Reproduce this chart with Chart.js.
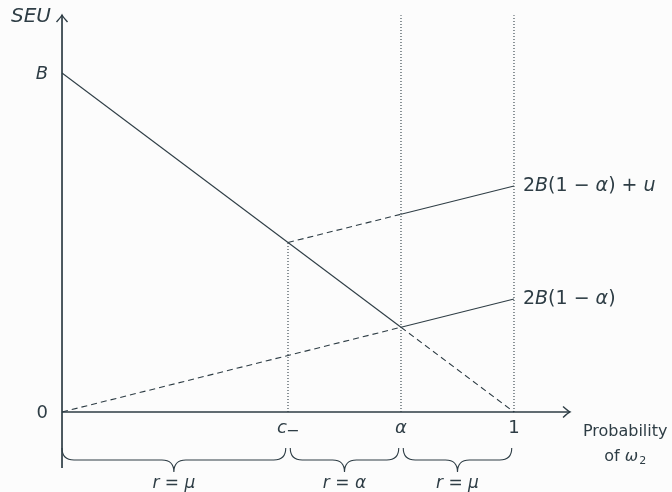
<!DOCTYPE html>
<html>
<head>
<meta charset="utf-8">
<script src="https://cdn.jsdelivr.net/npm/chart.js@4"></script>
<style>
  html, body { margin: 0; padding: 0; background: #fcfcfc; }
  #wrap { width: 672px; height: 492px; }
</style>
</head>
<body>
<div id="wrap"><canvas id="chart"></canvas></div>
<script>
// ---------- data (x = probability of ω2, y = SEU, B = 1) ----------
const xTickValues = [0.5, 0.75, 1];
const xTickLabels = ['c', 'α', '1'];
const yTickValues = [1, 0];
const yTickLabels = ['B', '0'];

const fallSolid   = [{x: 0, y: 1},      {x: 0.75, y: 0.25}];
const fallDashed  = [{x: 0.75, y: 0.25}, {x: 1, y: 0}];
const lowDashed   = [{x: 0, y: 0},      {x: 0.75, y: 0.25}];
const lowSolid    = [{x: 0.75, y: 0.25}, {x: 1, y: 0.3333}];
const highDashed  = [{x: 0.5, y: 0.5},  {x: 0.75, y: 0.5833}];
const highSolid   = [{x: 0.75, y: 0.5833}, {x: 1, y: 0.6667}];
const guideC      = [{x: 0.5, y: 0},    {x: 0.5, y: 0.5}];
const guideAlpha  = [{x: 0.75, y: 0},   {x: 0.75, y: 1.17}];
const guideOne    = [{x: 1, y: 0},      {x: 1, y: 1.17}];

// [text, italic]
const lineLabels = [
  [['2', 0], ['B', 1], ['(1 − ', 0], ['α', 1], [') + ', 0], ['u', 1]],
  [['2', 0], ['B', 1], ['(1 − ', 0], ['α', 1], [')', 0]],
];
const lineLabelY = [0.6667, 0.3333];

const braceSpans  = [[0, 0.495], [0.505, 0.745], [0.755, 0.995]];
const braceLabels = [
  [['r', 1], [' = ', 0], ['μ', 1]],
  [['r', 1], [' = ', 0], ['α', 1]],
  [['r', 1], [' = ', 0], ['μ', 1]],
];

const yAxisTitle = 'SEU';
const xAxisTitle = 'Probability';

// ---------- style ----------
const INK = '#2e3d45';
const FONT = '"DejaVu Sans", sans-serif';

function seg(data, dash) {
  return {
    data, showLine: true, pointRadius: 0, borderColor: INK,
    borderWidth: 1.1, borderDash: dash || [], tension: 0,
  };
}

function fontOf(italic, size) {
  return (italic ? 'oblique ' : '') + size + 'px ' + FONT;
}

// draw mixed upright / italic text
function drawMath(ctx, parts, x, y, size, align) {
  let w = 0;
  parts.forEach(([t, it]) => { ctx.font = fontOf(it, size); w += ctx.measureText(t).width; });
  let cx = align === 'center' ? x - w / 2 : align === 'right' ? x - w : x;
  ctx.textAlign = 'left';
  parts.forEach(([t, it]) => {
    ctx.font = fontOf(it, size);
    ctx.fillText(t, cx, y);
    cx += ctx.measureText(t).width;
  });
}

// axes, arrows, labels, braces
const decor = {
  id: 'decor',
  afterDatasetsDraw(chart) {
    const ctx = chart.ctx;
    const sx = chart.scales.x, sy = chart.scales.y;
    const X = v => sx.getPixelForValue(v), Y = v => sy.getPixelForValue(v);
    const x0 = X(0), y0 = Y(0);
    ctx.save();
    ctx.strokeStyle = INK; ctx.fillStyle = INK;
    ctx.lineWidth = 1.7; ctx.lineCap = 'butt';

    // x axis with arrow
    const xEnd = X(1.124);
    ctx.beginPath(); ctx.moveTo(x0, y0); ctx.lineTo(xEnd, y0); ctx.stroke();
    ctx.beginPath();
    ctx.moveTo(xEnd - 7, y0 - 5.5); ctx.quadraticCurveTo(xEnd - 2, y0 - 1, xEnd, y0);
    ctx.quadraticCurveTo(xEnd - 2, y0 + 1, xEnd - 7, y0 + 5.5);
    ctx.lineWidth = 1.4; ctx.stroke();

    // y axis with arrow
    const yTop = Y(1.171), yBot = Y(-0.165);
    ctx.lineWidth = 1.7;
    ctx.beginPath(); ctx.moveTo(x0, yBot); ctx.lineTo(x0, yTop); ctx.stroke();
    ctx.beginPath();
    ctx.moveTo(x0 - 5.5, yTop + 7); ctx.quadraticCurveTo(x0 - 1, yTop + 2, x0, yTop);
    ctx.quadraticCurveTo(x0 + 1, yTop + 2, x0 + 5.5, yTop + 7);
    ctx.lineWidth = 1.4; ctx.stroke();

    ctx.textBaseline = 'middle';

    // x tick labels
    xTickValues.forEach((v, i) => {
      const t = xTickLabels[i];
      if (t === 'c') {
        // c with subscript minus
        ctx.font = fontOf(1, 18);
        const cw = ctx.measureText('c').width;
        const left = X(v) - 11;
        ctx.textAlign = 'left';
        ctx.fillText('c', left, y0 + 16);
        ctx.fillRect(left + cw + 1, y0 + 18, 10, 1.3);
      } else {
        ctx.font = fontOf(t === 'α', 18);
        ctx.textAlign = 'center';
        ctx.fillText(t, X(v), y0 + 16);
      }
    });

    // y tick labels
    ctx.textAlign = 'right';
    yTickValues.forEach((v, i) => {
      const t = yTickLabels[i];
      ctx.font = fontOf(t === 'B', 18);
      ctx.fillText(t, x0 - 14, Y(v) + 1);
    });

    // axis titles
    ctx.font = fontOf(1, 20);
    ctx.textAlign = 'right';
    ctx.fillText(yAxisTitle, x0 - 11, yTop + 2);
    ctx.font = fontOf(0, 16);
    ctx.textAlign = 'center';
    const tx = X(1.246);
    ctx.fillText(xAxisTitle, tx, y0 + 20);
    // "of ω2"
    ctx.font = fontOf(0, 16); const w1 = ctx.measureText('of ').width;
    ctx.font = fontOf(1, 16); const w2 = ctx.measureText('ω').width;
    ctx.font = fontOf(0, 11); const w3 = ctx.measureText('2').width;
    let lx = tx - (w1 + w2 + w3 + 1) / 2;
    ctx.textAlign = 'left';
    ctx.font = fontOf(0, 16); ctx.fillText('of ', lx, y0 + 45); lx += w1;
    ctx.font = fontOf(1, 16); ctx.fillText('ω', lx, y0 + 45); lx += w2 + 1;
    ctx.font = fontOf(0, 11); ctx.fillText('2', lx, y0 + 49);

    // line labels
    lineLabels.forEach((p, i) => drawMath(ctx, p, X(1) + 9, Y(lineLabelY[i]), 19, 'left'));

    // braces
    ctx.lineWidth = 1.1;
    const top = y0 + 36, mid = y0 + 48, tip = y0 + 60, r = 12;
    braceSpans.forEach(([a, b], i) => {
      const l = X(a), rr = X(b), m = (l + rr) / 2;
      ctx.beginPath();
      ctx.moveTo(l, top);
      ctx.quadraticCurveTo(l, mid, l + r, mid);
      ctx.lineTo(m - r, mid);
      ctx.quadraticCurveTo(m, mid, m, tip);
      ctx.quadraticCurveTo(m, mid, m + r, mid);
      ctx.lineTo(rr - r, mid);
      ctx.quadraticCurveTo(rr, mid, rr, top);
      ctx.stroke();
      drawMath(ctx, braceLabels[i], m, y0 + 72, 17, 'center');
    });
    ctx.restore();
  }
};

new Chart(document.getElementById('chart'), {
  type: 'scatter',
  data: {
    datasets: [
      seg(fallSolid), seg(fallDashed, [6, 4]),
      seg(lowDashed, [6, 4]), seg(lowSolid),
      seg(highDashed, [6, 4]), seg(highSolid),
      seg(guideC, [1, 2]), seg(guideAlpha, [1, 2]), seg(guideOne, [1, 2]),
    ],
  },
  options: {
    responsive: true,
    maintainAspectRatio: false,
    animation: false,
    layout: { padding: 0 },
    plugins: { legend: { display: false }, tooltip: { enabled: false } },
    scales: {
      x: { type: 'linear', display: false, min: -0.1372, max: 1.3496 },
      y: { type: 'linear', display: false, min: -0.236, max: 1.2153 },
    },
  },
  plugins: [decor],
});
</script>
</body>
</html>
